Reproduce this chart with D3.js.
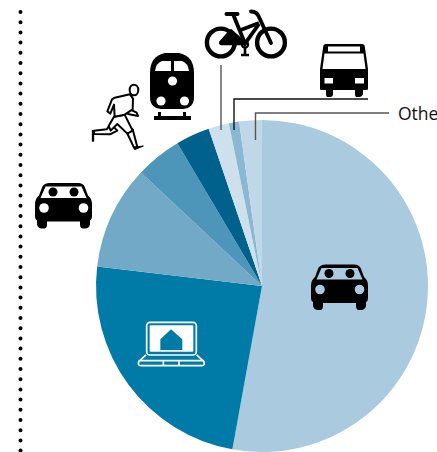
<!DOCTYPE html>
<html>
<head>
<meta charset="utf-8">
<script src="https://cdn.jsdelivr.net/npm/d3@7"></script>
<style>
  html, body { margin: 0; padding: 0; background: #fff; overflow: hidden; }
  svg { display: block; }
</style>
</head>
<body>
<svg id="chart" width="437" height="452"></svg>
<script>
// slice shares in %, clockwise from 12 o'clock
var modes = ["Car", "Telework", "Car passenger", "Transit", "Walk", "Bicycle", "Bus", "Other"];
var shares = [52.8, 24.0, 10.1, 4.5, 3.3, 2.0, 1.0, 2.2];
var colors = ["#aacadf", "#007ba7", "#72a9c6", "#4e96b9", "#00618d", "#cfe0ed", "#8ab8d3", "#c0d7e7"];
var otherLabel = "Other";

var svg = d3.select("#chart");
var cx = 262, cy = 286, radius = 166;

// dotted rule on the left
svg.append("line")
  .attr("x1", 20.5).attr("x2", 20.5)
  .attr("y1", 12).attr("y2", 452)
  .attr("stroke", "#000")
  .attr("stroke-width", 4)
  .attr("stroke-linecap", "round")
  .attr("stroke-dasharray", "0 10.2");

var pie = d3.pie().sort(null).value(function (d) { return d; });
var arc = d3.arc().innerRadius(0).outerRadius(radius);

svg.append("g")
  .attr("transform", "translate(" + cx + "," + cy + ")")
  .selectAll("path")
  .data(pie(shares))
  .enter().append("path")
  .attr("d", arc)
  .attr("fill", function (d, i) { return colors[i]; });

// leader lines
var leaders = [
  { d: "M221,65V130", color: "#555" },
  { d: "M234,130V99H368", color: "#111" },
  { d: "M255.500,140V113H389", color: "#555" }
];
svg.selectAll(".leader")
  .data(leaders)
  .enter().append("path")
  .attr("class", "leader")
  .attr("d", function (d) { return d.d; })
  .attr("fill", "none")
  .attr("stroke", function (d) { return d.color; })
  .attr("stroke-width", 1.4);

svg.append("text")
  .attr("x", 398).attr("y", 120)
  .style("font-family", "'Open Sans'")
  .style("font-size", "17.500px")
  .attr("fill", "#111")
  .text(otherLabel);

// icons
function drawCar(x, y, holeFill) {
  var g = svg.append("g").attr("transform", "translate(" + x + "," + y + ")");
  g.append("path")
    .attr("fill", "#000")
    .attr("d", "M14,0.500H44Q49,1 50,5L53,13Q57,16 57,22V34Q57,37 55,38V42Q54,46 50,46H48Q45,46 45,42V39H12V42Q12,46 9,46H7Q3,46 2,42V38Q0,37 0,34V22Q0,16 4,13L7,5Q8,1 14,0.500Z");
  g.append("path").attr("fill", holeFill).attr("d", "M10.500,4H46.500L51.500,15.500H5.500Z");
  g.append("circle").attr("cx", 18).attr("cy", 9.500).attr("r", 4.500).attr("fill", "#000");
  g.append("circle").attr("cx", 39).attr("cy", 9.500).attr("r", 4.500).attr("fill", "#000");
  g.append("circle").attr("cx", 9).attr("cy", 25.500).attr("r", 4.800).attr("fill", holeFill);
  g.append("circle").attr("cx", 48.500).attr("cy", 25.500).attr("r", 4.800).attr("fill", holeFill);
}
drawCar(35, 182.500, "#fff");
drawCar(311, 264, colors[0]);

// train
var train = svg.append("g").attr("transform", "translate(150,53)");
train.append("path").attr("fill", "#000")
  .attr("d", "M15,0H29Q44,3 44,20V44Q44,55 33,56H11Q0,55 0,44V20Q0,3 15,0Z");
train.append("path").attr("fill", "#000").attr("d", "M4,63H8V59H11V63H33V59H36V63H41V67H4Z");
train.append("path").attr("fill", "#fff").attr("d", "M5,18Q6,10 12,8H21V18Z");
train.append("path").attr("fill", "#fff").attr("d", "M24,8H32Q38,10 39,18H24Z");
[[22.500, 28], [11, 48], [34.500, 48]].forEach(function (p) {
  train.append("circle").attr("cx", p[0]).attr("cy", p[1]).attr("r", 4.600).attr("fill", "#fff");
});

// bus
var bus = svg.append("g").attr("transform", "translate(320,44)");
bus.append("path").attr("fill", "#000")
  .attr("d", "M6,0H42Q45,0 45,4L48,25V45Q48,46 46,46H43V50Q42,53 39,53H36Q35,52 35,50V46H13V50Q13,53 10,53H7Q6,52 6,50V46H1Q0,46 0,45V25L3,4Q3,0 6,0Z");
bus.append("path").attr("fill", "#fff").attr("d", "M8,2.500H40V7.500H8Z");
bus.append("path").attr("fill", "#fff").attr("d", "M4.500,9.500H43.500L45.500,25H2.500Z");
bus.append("rect").attr("x", 4.500).attr("y", 34).attr("width", 8.500).attr("height", 5.500).attr("fill", "#fff");
bus.append("rect").attr("x", 35).attr("y", 34).attr("width", 9).attr("height", 5.500).attr("fill", "#fff");

// bicycle
var bike = svg.append("g").attr("fill", "none").attr("stroke", "#000");
[[220.800, 42.500], [271, 42.500]].forEach(function (p) {
  bike.append("circle").attr("cx", p[0]).attr("cy", p[1]).attr("r", 13.900).attr("stroke-width", 4.400);
});
bike.append("path").attr("fill", "#000").attr("stroke-width", 3.600).attr("stroke-linejoin", "round")
  .attr("d", "M220.800,42.500L231,31L245,43.500H221Z");
bike.append("path").attr("stroke-width", 3.800)
  .attr("d", "M233,14L245,43.500L259,24M238,31L259,23");
bike.append("path").attr("stroke-width", 3.800).attr("stroke-linecap", "round")
  .attr("d", "M251,11.500Q257,11.500 259,17L271,43");
bike.append("path").attr("stroke-width", 4).attr("stroke-linecap", "round").attr("d", "M226.500,14H237.500");
bike.append("circle").attr("cx", 245).attr("cy", 44.500).attr("r", 3).attr("stroke-width", 2.200);
bike.append("path").attr("stroke-width", 2.600).attr("d", "M245,48V54M241,55H249");

// runner, drawn in 3x units
var runner = svg.append("g").attr("transform", "scale(0.3333)")
  .attr("fill", "#fff").attr("stroke", "#000").attr("stroke-width", 6).attr("stroke-linejoin", "round");
runner.append("path").attr("d", "M378,322L410,338L414,348L384,342Z");
runner.append("path").attr("d", "M282,392L320,388L332,372L352,392L330,403L282,402Z");
runner.append("path").attr("d", "M380,396L398,388L412,441L402,443Z");
runner.append("path").attr("d", "M342,350L374,344L398,392L382,401L352,372L332,392L326,378Z");
runner.append("path").attr("d", "M390,283L344,293L336,298L322,334L331,341L342,314L344,350L374,344L398,328L399,296Z");
runner.append("ellipse").attr("cx", 402).attr("cy", 270).attr("rx", 13).attr("ry", 16);
runner.append("path").attr("stroke-width", 7).attr("d", "M279,390V425");
runner.append("path").attr("fill", "#000").attr("stroke-width", 3).attr("d", "M402,442L430,438L404,449Z");

// laptop with the house
var laptop = svg.append("g").attr("transform", "translate(120,250) scale(0.3333)");
laptop.append("rect").attr("x", 80).attr("y", 217).attr("width", 149).attr("height", 98).attr("rx", 10)
  .attr("fill", "none").attr("stroke", "#fff").attr("stroke-width", 5);
laptop.append("rect").attr("x", 89).attr("y", 226).attr("width", 131).attr("height", 79).attr("rx", 3).attr("fill", "#fff");
laptop.append("path").attr("fill", colors[1]).attr("d", "M121,300V268L153,238L187,268V300Z");
laptop.append("path").attr("fill", "none").attr("stroke", "#fff").attr("stroke-width", 5)
  .attr("d", "M78,315L56,335Q53,347 62,347H246Q255,347 252,335L230,315M56,332H252M130,332V347M177,332V347");
</script>
</body>
</html>
